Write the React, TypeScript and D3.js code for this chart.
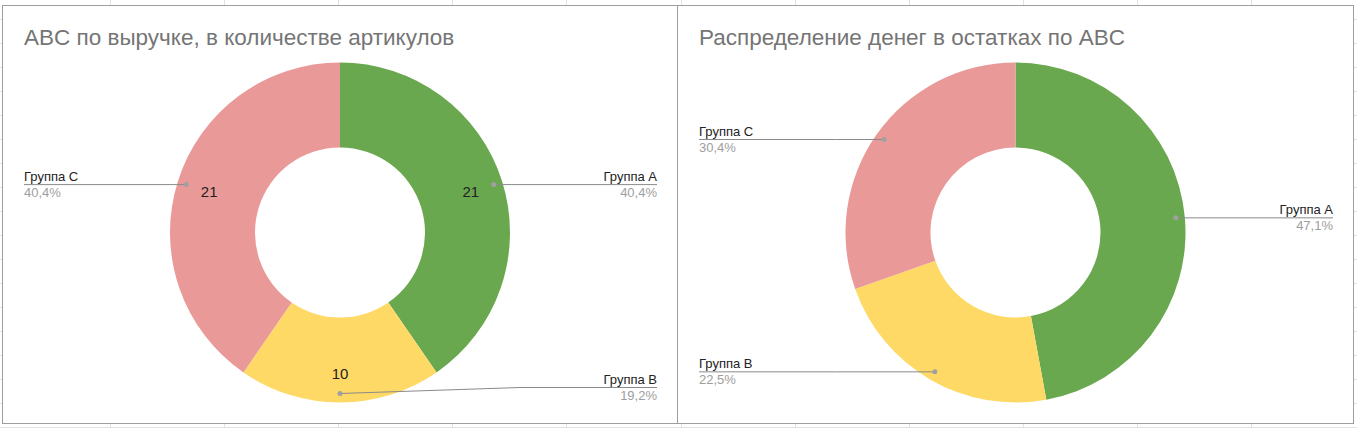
import * as d3 from "d3";

// data
const groups = ["Группа A", "Группа B", "Группа C"];
const countValues = [21, 10, 21];
const moneyShares = [47.1, 22.5, 30.4];
const sliceColors = ["#6aa84f", "#ffd966", "#ea9999"];
const chartTitles = [
  "ABC по выручке, в количестве артикулов",
  "Распределение денег в остатках по ABC",
];

const W = 1357;
const H = 428;
const FONT = "'Liberation Sans', Arial, sans-serif";

const pctFormat = (v: number) => d3.format(".1f")(v).replace(".", ",") + "%";

interface DonutProps {
  x0: number;
  x1: number;
  title: string;
  values: number[];
  showValues: boolean;
}

function Donut({ x0, x1, title, values, showValues }: DonutProps) {
  const top = 5;
  const bottom = 423;
  const cx = (x0 + x1) / 2 + 0.5;
  const cy = 232.5;
  const R = 170;
  const r0 = 85;

  const total = d3.sum(values);
  const pie = d3.pie<number>().sort(null).value((d) => d);
  const arcs = pie(values);
  const arc = d3
    .arc<d3.PieArcDatum<number>>()
    .innerRadius(r0)
    .outerRadius(R);

  return (
    <g>
      <rect
        x={x0 + 0.5}
        y={top + 0.5}
        width={x1 - x0}
        height={bottom - top}
        fill="#fff"
        stroke="#9e9e9e"
      />
      <text
        x={x0 + 22}
        y={45}
        fontSize={22.5}
        fill="#757575"
        fontFamily={FONT}
      >
        {title}
      </text>
      <g transform={`translate(${cx},${cy})`}>
        {arcs.map((a, i) => (
          <path key={i} d={arc(a) ?? ""} fill={sliceColors[i]} />
        ))}
      </g>
      {showValues &&
        arcs.map((a, i) => {
          const mid = (a.startAngle + a.endAngle) / 2;
          // value labels sit a bit further out near the bottom
          const rl = 137 + 4 * Math.max(0, -Math.cos(mid));
          return (
            <text
              key={"v" + i}
              x={cx + rl * Math.sin(mid)}
              y={cy - rl * Math.cos(mid)}
              textAnchor="middle"
              dominantBaseline="central"
              fontSize={15}
              fill="#222"
              fontFamily={FONT}
            >
              {values[i]}
            </text>
          );
        })}
      {arcs.map((a, i) => {
        const mid = (a.startAngle + a.endAngle) / 2;
        const dx = Math.sin(mid);
        const dy = -Math.cos(mid);
        const px = cx + 161 * dx;
        const py = cy + 161 * dy;
        const right = dx >= -1e-6;
        const ly = Math.min(py, cy + R - 15);
        const elbowX = right ? cx + R + 10 : cx - R - 10;
        const endX = right ? x1 - 20 : x0 + 22;
        const anchor = right ? "end" : "start";
        return (
          <g key={"l" + i}>
            <path
              d={`M${px},${py}L${elbowX},${ly}L${endX},${ly}`}
              fill="none"
              stroke="#8a8a8a"
              strokeWidth={1}
            />
            <circle cx={px} cy={py} r={2.5} fill="#a0a0a0" />
            <text
              x={endX}
              y={ly - 4}
              textAnchor={anchor}
              fontSize={13}
              fill="#222"
              fontFamily={FONT}
            >
              {groups[i]}
            </text>
            <text
              x={endX}
              y={ly + 12}
              textAnchor={anchor}
              fontSize={13}
              fill="#9e9e9e"
              fontFamily={FONT}
            >
              {pctFormat((values[i] / total) * 100)}
            </text>
          </g>
        );
      })}
    </g>
  );
}

export default function App() {
  const gridX = d3.range(-1, 12).map((k) => 110 + 114.1 * k);
  const gridY = d3.range(0, 18).map((k) => 19.3 + 24 * k);

  return (
    <div style={{ position: "absolute", left: 0, top: 0 }}>
      <svg width={W} height={H} style={{ display: "block" }}>
        <rect width={W} height={H} fill="#fff" />
        {gridX.map((x, i) => (
          <line
            key={"gx" + i}
            x1={Math.round(x) + 0.5}
            x2={Math.round(x) + 0.5}
            y1={0}
            y2={H}
            stroke="#e2e2e2"
          />
        ))}
        {gridY.map((y, i) => (
          <line
            key={"gy" + i}
            x1={0}
            x2={W}
            y1={Math.round(y) + 0.5}
            y2={Math.round(y) + 0.5}
            stroke="#e2e2e2"
          />
        ))}
        <Donut
          x0={2}
          x1={677}
          title={chartTitles[0]}
          values={countValues}
          showValues={true}
        />
        <Donut
          x0={677}
          x1={1353}
          title={chartTitles[1]}
          values={moneyShares}
          showValues={false}
        />
      </svg>
    </div>
  );
}
